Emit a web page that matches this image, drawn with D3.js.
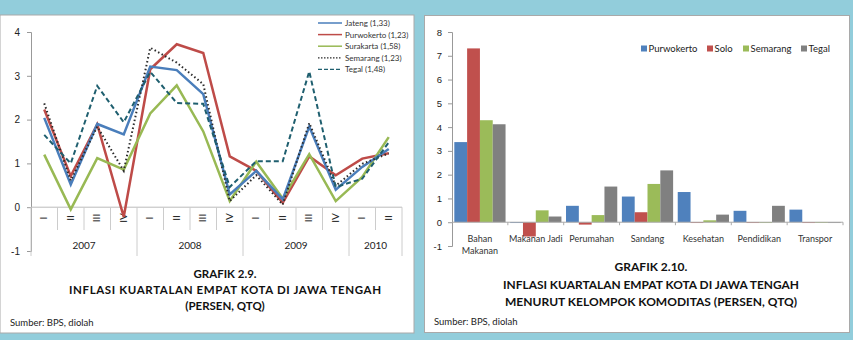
<!DOCTYPE html>
<meta charset="utf-8">
<head>
  <script src="https://d3js.org/d3.v7.min.js"></script>
  <style>
    body { margin: 0; background: #92cddb; font-family: "Lato", "Open Sans", sans-serif; }
    svg { display: block; }
    .tick text { fill: #222; }
  </style>
</head>
<body>
<script>
  // ---- data: grafik 2.9 (inflasi kuartalan, qtq) ----
  var quarters = ["I", "II", "III", "IV", "I", "II", "III", "IV", "I", "II", "III", "IV", "I", "II"];
  var years = [["2007", 4], ["2008", 4], ["2009", 4], ["2010", 2]];
  var lineNames = ["Jateng (1,33)", "Purwokerto (1,23)", "Surakarta (1,58)", "Semarang (1,23)", "Tegal (1,48)"];
  var jateng     = [2.04, 0.52, 1.90, 1.66, 3.21, 3.13, 2.58, 0.29, 0.83, 0.18, 1.84, 0.40, 0.92, 1.33];
  var purwokerto = [2.23, 0.71, 1.89, -0.22, 3.15, 3.72, 3.52, 1.16, 0.83, 0.10, 1.16, 0.73, 1.11, 1.23];
  var surakarta  = [1.20, -0.05, 1.12, 0.86, 2.14, 2.78, 1.73, 0.14, 1.04, 0.20, 1.21, 0.14, 0.69, 1.60];
  var semarang   = [2.37, 0.61, 1.84, 0.83, 3.64, 3.30, 2.81, 0.14, 0.73, 0.06, 1.92, 0.49, 0.99, 1.23];
  var tegal      = [1.65, 1.00, 2.77, 1.94, 3.09, 2.38, 2.36, 0.46, 1.05, 1.05, 3.10, 0.46, 0.65, 1.48];
  var lineTicks = [-1, 0, 1, 2, 3, 4];

  // ---- data: grafik 2.10 (per kelompok komoditas) ----
  var groups = ["Bahan Makanan", "Makanan Jadi", "Perumahan", "Sandang", "Kesehatan", "Pendidikan", "Transpor"];
  var cities = ["Purwokerto", "Solo", "Semarang", "Tegal"];
  var barPurwokerto = [3.37, -0.03, 0.69, 1.08, 1.27, 0.48, 0.53];
  var barSolo       = [7.31, -0.60, -0.10, 0.42, -0.03, -0.03, 0.00];
  var barSemarang   = [4.29, 0.50, 0.30, 1.61, 0.08, 0.00, 0.01];
  var barTegal      = [4.12, 0.24, 1.50, 2.18, 0.32, 0.69, -0.03];
  var barTicks = [-1, 0, 1, 2, 3, 4, 5, 6, 7, 8];

  var W = 853, H = 340;
  var svg = d3.select("body").append("svg").attr("width", W).attr("height", H);
  // plain hyphen for negatives, like the original
  var fmt = function(d) { return String(d); };

  // panels
  svg.append("rect").attr("x", 0).attr("y", 15).attr("width", 414).attr("height", 318)
    .attr("fill", "#fff").attr("stroke", "#a9a9a9").attr("stroke-width", 1);
  svg.append("rect").attr("x", 424.5).attr("y", 15.5).attr("width", 425).attr("height", 317)
    .attr("fill", "#fff").attr("stroke", "#a9a9a9").attr("stroke-width", 1);

  // ================= left: line chart =================
  var x = d3.scaleBand().domain(d3.range(quarters.length)).range([31, 402]);
  var y = d3.scaleLinear().domain([-1, 4]).range([251, 32]);
  var left = svg.append("g");

  var yAx = left.append("g").attr("transform", "translate(31,0)")
    .call(d3.axisLeft(y).tickValues(lineTicks).tickSize(4).tickPadding(7).tickFormat(fmt));
  yAx.select(".domain").attr("stroke", "#999");
  yAx.selectAll(".tick line").attr("stroke", "#999");
  yAx.selectAll("text").style("font-size", "10px");

  // zero line
  left.append("line").attr("x1", 31).attr("x2", 402).attr("y1", y(0)).attr("y2", y(0)).attr("stroke", "#bbb");

  // quarter separators
  var seps = d3.range(1, quarters.length + 1);
  var yearEnds = [];
  var acc = 0;
  years.forEach(function(d) { acc += d[1]; yearEnds.push(acc); });
  left.selectAll(".qsep").data(seps).enter().append("line")
    .attr("x1", function(i) { return x(i - 1) + x.bandwidth(); })
    .attr("x2", function(i) { return x(i - 1) + x.bandwidth(); })
    .attr("y1", y(0))
    .attr("y2", function(i) { return yearEnds.indexOf(i) >= 0 ? 256 : 230; })
    .attr("stroke", "#ccc");
  left.append("line").attr("x1", x(0)).attr("x2", x(0)).attr("y1", y(0)).attr("y2", 256).attr("stroke", "#ccc");

  // quarter labels (rotated roman numerals)
  left.selectAll(".ql").data(quarters).enter().append("text")
    .attr("transform", function(d, i) { return "translate(" + (x(i) + x.bandwidth() / 2 + 3) + ",218) rotate(-90)"; })
    .attr("text-anchor", "middle")
    .style("font-size", "10px").attr("fill", "#222")
    .text(function(d) { return d; });

  // year labels
  var start = 0;
  years.forEach(function(d) {
    var x0 = x(start), x1 = x(start + d[1] - 1) + x.bandwidth();
    left.append("text").attr("x", (x0 + x1) / 2).attr("y", 249).attr("text-anchor", "middle")
      .style("font-size", "10px").attr("fill", "#222").text(d[0]);
    start += d[1];
  });

  var series = [
    { vals: jateng, color: "#4a7ebb", width: 2.5, dash: null },
    { vals: purwokerto, color: "#be4b48", width: 2.5, dash: null },
    { vals: surakarta, color: "#98b954", width: 2.5, dash: null },
    { vals: semarang, color: "#2b2b2b", width: 2, dash: "1.5,2.5" },
    { vals: tegal, color: "#1f5f6f", width: 2, dash: "5,3" }
  ];
  var line = d3.line().x(function(d, i) { return x(i) + x.bandwidth() / 2; }).y(function(d) { return y(d); });

  // draw order: solid lines first, then dotted / dashed on top
  [1, 2, 0, 3, 4].forEach(function(k) {
    var s = series[k];
    left.append("path").datum(s.vals).attr("d", line)
      .attr("fill", "none").attr("stroke", s.color).attr("stroke-width", s.width)
      .attr("stroke-linejoin", "miter")
      .attr("stroke-dasharray", s.dash);
  });

  // legend
  var lg = left.append("g");
  series.forEach(function(s, i) {
    var yy = 23 + i * 11.6;
    lg.append("line").attr("x1", 318).attr("x2", 342).attr("y1", yy).attr("y2", yy)
      .attr("stroke", s.color).attr("stroke-width", s.dash ? 1.3 : 1.5).attr("stroke-dasharray", s.dash ? (i == 3 ? "1.5,1.5" : "4,2") : null);
    lg.append("text").attr("x", 345).attr("y", yy + 3).style("font-size", "8px").attr("fill", "#333")
      .text(lineNames[i]);
  });

  // titles
  left.append("text").attr("x", 225).attr("y", 278).attr("text-anchor", "middle")
    .style("font-size", "11.5px").style("font-weight", "bold").attr("fill", "#111").text("GRAFIK 2.9.");
  left.append("text").attr("x", 225).attr("y", 294).attr("text-anchor", "middle")
    .attr("textLength", 312).attr("lengthAdjust", "spacing")
    .style("font-size", "11.5px").style("font-weight", "bold").attr("fill", "#111")
    .text("INFLASI KUARTALAN EMPAT KOTA DI JAWA TENGAH");
  left.append("text").attr("x", 225).attr("y", 310).attr("text-anchor", "middle")
    .style("font-size", "11.5px").style("font-weight", "bold").attr("fill", "#111").text("(PERSEN, QTQ)");
  left.append("text").attr("x", 10).attr("y", 326)
    .style("font-size", "9.5px").attr("fill", "#222").text("Sumber: BPS, diolah");

  // ================= right: bar chart =================
  var right = svg.append("g");
  var gx = d3.scaleBand().domain(groups).range([452, 843]);
  var bx = d3.scaleBand().domain(cities).range([0, gx.bandwidth()]).paddingOuter(0.18);
  var by = d3.scaleLinear().domain([-1, 8]).range([246, 32]);
  var barColors = { Purwokerto: "#4f81bd", Solo: "#c0504d", Semarang: "#9bbb59", Tegal: "#808080" };
  var barData = { Purwokerto: barPurwokerto, Solo: barSolo, Semarang: barSemarang, Tegal: barTegal };

  var byAx = right.append("g").attr("transform", "translate(452,0)")
    .call(d3.axisLeft(by).tickValues(barTicks).tickSize(4).tickPadding(6).tickFormat(fmt));
  byAx.select(".domain").attr("stroke", "#999");
  byAx.selectAll(".tick line").attr("stroke", "#999");
  byAx.selectAll("text").style("font-size", "9.5px");

  cities.forEach(function(c) {
    right.selectAll(".bar-" + c).data(barData[c]).enter().append("rect")
      .attr("x", function(d, i) { return gx(groups[i]) + bx(c); })
      .attr("width", bx.bandwidth())
      .attr("y", function(d) { return by(Math.max(0, d)); })
      .attr("height", function(d) { return Math.max(0.8, Math.abs(by(d) - by(0))); })
      .attr("fill", barColors[c]);
  });

  // x axis at zero
  right.append("line").attr("x1", 452).attr("x2", 843).attr("y1", by(0)).attr("y2", by(0)).attr("stroke", "#aaa");
  right.selectAll(".gtick").data(groups.slice(1).concat(["end"])).enter().append("line")
    .attr("x1", function(d, i) { return 452 + (i + 1) * gx.bandwidth(); })
    .attr("x2", function(d, i) { return 452 + (i + 1) * gx.bandwidth(); })
    .attr("y1", by(0)).attr("y2", by(0) + 3).attr("stroke", "#aaa");

  // group labels
  groups.forEach(function(g) {
    var t = right.append("text").attr("x", gx(g) + gx.bandwidth() / 2).attr("y", 242)
      .attr("text-anchor", "middle").style("font-size", "9px").attr("fill", "#333");
    if (g === "Bahan Makanan") {
      t.append("tspan").attr("x", gx(g) + gx.bandwidth() / 2).text("Bahan");
      t.append("tspan").attr("x", gx(g) + gx.bandwidth() / 2).attr("dy", 12).text("Makanan");
    } else {
      t.text(g);
    }
  });

  // legend
  var legX = [641, 707, 743, 801];
  cities.forEach(function(c, i) {
    right.append("rect").attr("x", legX[i]).attr("y", 45.5).attr("width", 6).attr("height", 6).attr("fill", barColors[c]);
    right.append("text").attr("x", legX[i] + 7.5).attr("y", 52).style("font-size", "9.5px").attr("fill", "#222").text(c);
  });

  right.append("text").attr("x", 651).attr("y", 271).attr("text-anchor", "middle")
    .style("font-size", "12px").style("font-weight", "bold").attr("fill", "#111").text("GRAFIK 2.10.");
  right.append("text").attr("x", 651).attr("y", 289).attr("text-anchor", "middle")
    .attr("textLength", 296).attr("lengthAdjust", "spacingAndGlyphs")
    .style("font-size", "12px").style("font-weight", "bold").attr("fill", "#111")
    .text("INFLASI KUARTALAN EMPAT KOTA DI JAWA TENGAH");
  right.append("text").attr("x", 651).attr("y", 306).attr("text-anchor", "middle")
    .attr("textLength", 292).attr("lengthAdjust", "spacingAndGlyphs")
    .style("font-size", "12px").style("font-weight", "bold").attr("fill", "#111")
    .text("MENURUT KELOMPOK KOMODITAS (PERSEN, QTQ)");
  right.append("text").attr("x", 434).attr("y", 325)
    .style("font-size", "9.5px").attr("fill", "#222").text("Sumber: BPS, diolah");
</script>
</body>
</html>
